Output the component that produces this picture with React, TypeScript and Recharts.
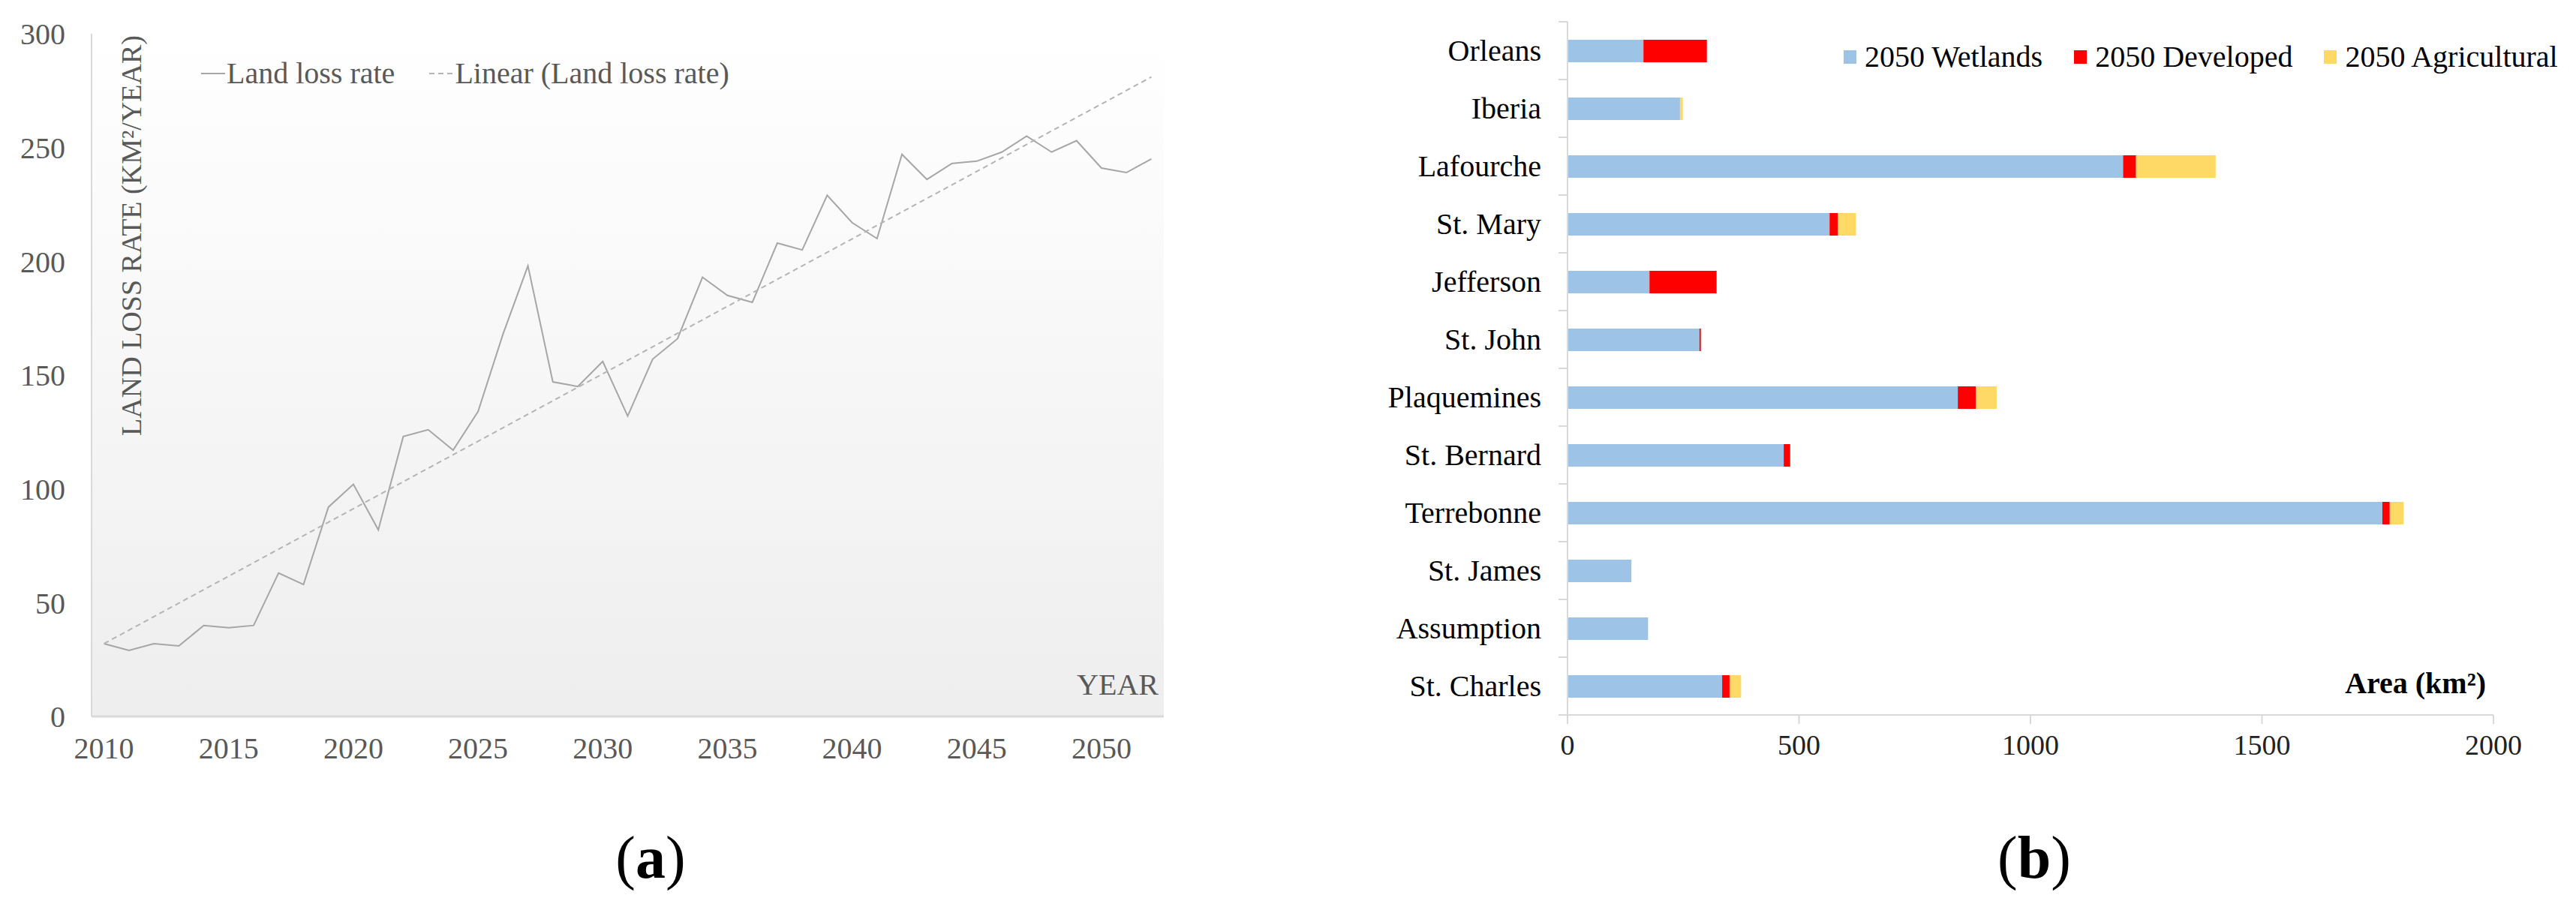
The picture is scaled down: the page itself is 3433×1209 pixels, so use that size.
import React from 'react'
import {
  LineChart,
  Line,
  BarChart,
  Bar,
  XAxis,
  YAxis,
  CartesianGrid,
  Legend,
} from 'recharts'

const FONT = "'Liberation Serif', 'Times New Roman', serif"
const LABEL_GAP = 35

// (a) land loss rate
const years = [
  2010, 2011, 2012, 2013, 2014, 2015, 2016, 2017, 2018, 2019, 2020, 2021, 2022, 2023, 2024,
  2025, 2026, 2027, 2028, 2029, 2030, 2031, 2032, 2033, 2034, 2035, 2036, 2037, 2038, 2039,
  2040, 2041, 2042, 2043, 2044, 2045, 2046, 2047, 2048, 2049, 2050, 2051, 2052,
]
const lossRate = [
  32, 29, 32, 31, 40, 39, 40, 63, 58, 92, 102, 82, 123, 126, 117,
  134, 168, 198, 147, 145, 156, 132, 157, 166, 193, 185, 182, 208, 205, 229,
  217, 210, 247, 236, 243, 244, 248, 255, 248, 253, 241, 239, 245,
]
const trendYears = [2010, 2052]
const trendValues = [32, 281]
const yearTicks = [2010, 2015, 2020, 2025, 2030, 2035, 2040, 2045, 2050]
const rateTicks = [0, 50, 100, 150, 200, 250, 300]

// (b) 2050 land area by parish
const parishes = [
  'Orleans', 'Iberia', 'Lafourche', 'St. Mary', 'Jefferson', 'St. John',
  'Plaquemines', 'St. Bernard', 'Terrebonne', 'St. James', 'Assumption', 'St. Charles',
]
const wetlands = [164, 243, 1200, 566, 177, 285, 843, 467, 1760, 138, 174, 334]
const developed = [137, 0, 28, 18, 145, 3, 39, 14, 16, 0, 0, 16]
const agricultural = [0, 6, 172, 39, 0, 0, 45, 0, 30, 0, 0, 25]
const areaTicks = [0, 500, 1000, 1500, 2000]
const seriesOrder = ['wetlands', 'developed', 'agricultural']

const lossData = years.map((year, i) => ({ year, value: lossRate[i] }))
const trendData = trendYears.map((year, i) => ({ year, value: trendValues[i] }))
const areaData = parishes.map((parish, i) => ({
  parish,
  wetlands: wetlands[i],
  developed: developed[i],
  agricultural: agricultural[i],
}))

const LineLegend = ({ payload }: any) => (
  <div style={{ display: 'flex', alignItems: 'center', fontFamily: FONT, fontSize: 40, color: '#595959' }}>
    {(payload || []).map((entry: any, i: number) => (
      <div key={i} style={{ display: 'flex', alignItems: 'center', marginRight: 46 }}>
        <svg width={34} height={10}>
          <line
            x1={0}
            y1={5}
            x2={32}
            y2={5}
            stroke={entry.color}
            strokeWidth={2}
            strokeDasharray={entry.payload?.strokeDasharray}
          />
        </svg>
        <span style={{ whiteSpace: 'nowrap' }}>{entry.value}</span>
      </div>
    ))}
  </div>
)

const BarLegend = ({ payload }: any) => {
  const items = [...(payload || [])].sort(
    (a: any, b: any) => seriesOrder.indexOf(a.dataKey) - seriesOrder.indexOf(b.dataKey)
  )
  return (
    <div style={{ display: 'flex', alignItems: 'center', fontFamily: FONT, fontSize: 40, color: '#000' }}>
      {items.map((entry: any, i: number) => (
        <div key={i} style={{ display: 'flex', alignItems: 'center', marginRight: 42 }}>
          <div style={{ width: 17, height: 18, background: entry.color, marginRight: 11 }} />
          <span style={{ whiteSpace: 'nowrap', fontFamily: FONT }}>{entry.value}</span>
        </div>
      ))}
    </div>
  )
}

// category label plus the small tick marks between the rows
const CategoryTick = (props: any) => {
  const { x, y, payload, index, visibleTicksCount, height } = props
  const count = visibleTicksCount || parishes.length
  let half = height / count / 2
  if (!Number.isFinite(half)) half = 38.5
  const axisX = x + LABEL_GAP
  return (
    <g>
      <line x1={axisX - 12} x2={axisX} y1={y - half} y2={y - half} stroke="#d9d9d9" strokeWidth={2} />
      {index === count - 1 && (
        <line x1={axisX - 12} x2={axisX} y1={y + half} y2={y + half} stroke="#d9d9d9" strokeWidth={2} />
      )}
      <text x={x} y={y} textAnchor="end" dominantBaseline="central" fontSize={40} fontFamily={FONT} fill="#000">
        {payload.value}
      </text>
    </g>
  )
}

function LossChart() {
  return (
    <LineChart width={1600} height={1060} margin={{ top: 45, right: 49, bottom: 45, left: 22 }}>
      <defs>
        <linearGradient id="plotBg" x1="0" y1="0" x2="0" y2="1">
          <stop offset="0%" stopColor="#ffffff" />
          <stop offset="100%" stopColor="#eeeeee" />
        </linearGradient>
      </defs>
      <CartesianGrid horizontal={false} vertical={false} fill="url(#plotBg)" />
      <XAxis
        type="number"
        dataKey="year"
        domain={[2009.5, 2052.5]}
        ticks={yearTicks}
        allowDataOverflow
        height={60}
        axisLine={{ stroke: '#d9d9d9', strokeWidth: 3 }}
        tickLine={false}
        tickSize={6}
        tickMargin={22}
        tick={{ fill: '#595959', fontSize: 40, fontFamily: FONT }}
      />
      <YAxis
        type="number"
        domain={[0, 300]}
        ticks={rateTicks}
        width={100}
        axisLine={{ stroke: '#d9d9d9', strokeWidth: 2 }}
        tickLine={false}
        tickSize={0}
        tickMargin={35}
        tick={{ fill: '#595959', fontSize: 40, fontFamily: FONT }}
      />
      <Legend
        layout="horizontal"
        verticalAlign="middle"
        align="center"
        content={<LineLegend />}
        wrapperStyle={{ top: 74, left: 268, width: 'auto' }}
      />
      <Line
        data={lossData}
        dataKey="value"
        name="Land loss rate"
        stroke="#a6a6a6"
        strokeWidth={2}
        dot={false}
        isAnimationActive={false}
      />
      <Line
        data={trendData}
        dataKey="value"
        name="Linear (Land loss rate)"
        stroke="#b4b4b4"
        strokeWidth={2}
        strokeDasharray="7 5"
        dot={false}
        isAnimationActive={false}
      />
    </LineChart>
  )
}

function AreaChartB() {
  return (
    <BarChart
      layout="vertical"
      data={areaData}
      width={1733}
      height={1060}
      margin={{ top: 29, right: 110, bottom: 47, left: 20 }}
      barSize={30}
    >
      <XAxis
        type="number"
        domain={[0, 2000]}
        ticks={areaTicks}
        height={60}
        axisLine={{ stroke: '#d9d9d9', strokeWidth: 2 }}
        tickLine={{ stroke: '#d9d9d9', strokeWidth: 2 }}
        tickSize={12}
        tickMargin={14}
        tick={{ fill: '#222', fontSize: 38, fontFamily: FONT }}
      />
      <YAxis
        type="category"
        dataKey="parish"
        width={369}
        interval={0}
        axisLine={{ stroke: '#d9d9d9', strokeWidth: 2 }}
        tickLine={false}
        tickSize={0}
        tickMargin={LABEL_GAP}
        tick={<CategoryTick />}
      />
      <Legend
        layout="horizontal"
        verticalAlign="middle"
        align="center"
        content={<BarLegend />}
        wrapperStyle={{ top: 52, left: 757, width: 'auto' }}
      />
      <Bar dataKey="wetlands" name="2050 Wetlands" stackId="a" fill="#9dc3e6" isAnimationActive={false} />
      <Bar dataKey="developed" name="2050 Developed" stackId="a" fill="#ff0000" isAnimationActive={false} />
      <Bar dataKey="agricultural" name="2050 Agricultural" stackId="a" fill="#ffd966" isAnimationActive={false} />
    </BarChart>
  )
}

export default function App() {
  return (
    <div
      style={{
        position: 'absolute',
        left: 0,
        top: 0,
        width: 3433,
        height: 1209,
        background: '#fff',
        overflow: 'hidden',
        fontFamily: FONT,
      }}
    >
      <div style={{ position: 'absolute', left: 0, top: 0 }}>
        <LossChart />
      </div>
      <div style={{ position: 'absolute', left: 1700, top: 0 }}>
        <AreaChartB />
      </div>
      <svg
        width={3433}
        height={1209}
        style={{ position: 'absolute', left: 0, top: 0, pointerEvents: 'none' }}
        fontFamily={FONT}
      >
        <text
          x={175}
          y={47}
          transform="rotate(-90 175 47)"
          textAnchor="end"
          dominantBaseline="central"
          fontSize={38}
          fill="#595959"
        >
          LAND LOSS RATE (KM²/YEAR)
        </text>
        <text x={1544} y={912} textAnchor="end" dominantBaseline="central" fontSize={40} fill="#595959">
          YEAR
        </text>
        <text x={3313} y={910} textAnchor="end" dominantBaseline="central" fontSize={40} fontWeight="bold" fill="#000">
          Area (km²)
        </text>
        <text x={867} y={1143} textAnchor="middle" dominantBaseline="central" fontSize={80} fill="#000">
          (<tspan fontWeight="bold">a</tspan>)
        </text>
        <text x={2711} y={1143} textAnchor="middle" dominantBaseline="central" fontSize={80} fill="#000">
          (<tspan fontWeight="bold">b</tspan>)
        </text>
      </svg>
    </div>
  )
}
